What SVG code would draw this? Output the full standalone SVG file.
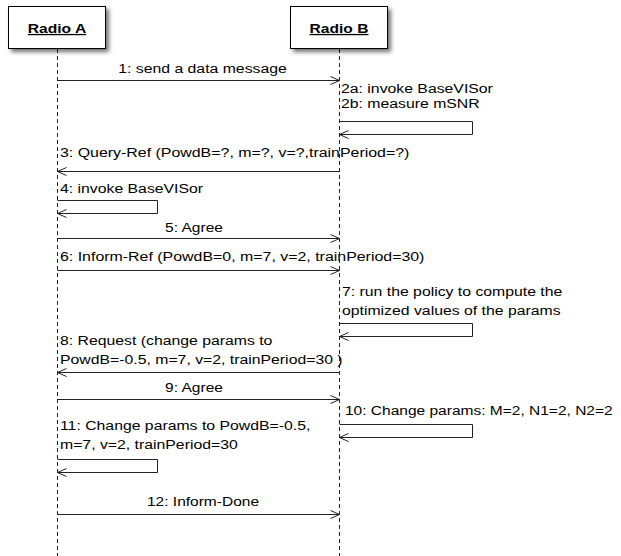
<svg xmlns="http://www.w3.org/2000/svg" width="621" height="556" viewBox="0 0 621 556">
  <style>
    .box { fill: #fff; stroke: #000; stroke-width: 1; filter: url(#shadow); }
    .life { stroke: #222; stroke-width: 1; stroke-dasharray: 4 3; fill: none; }
    .msg { stroke: #222; stroke-width: 1; fill: none; marker-end: url(#open); }
    .t { font-family: "Liberation Sans", Arial, sans-serif; font-size: 13.5px; fill: #000; }
    .c { text-anchor: middle; }
    .h { font-family: "Liberation Sans", Arial, sans-serif; font-size: 13px; font-weight: bold; text-anchor: middle; text-decoration: underline; fill: #000; }
  </style>
  <defs>
    <filter id="shadow" x="-20%" y="-20%" width="150%" height="160%">
      <feDropShadow dx="3" dy="3" stdDeviation="2" flood-color="#000" flood-opacity="0.55"/>
    </filter>
    <marker id="open" markerUnits="userSpaceOnUse" markerWidth="12" markerHeight="12" viewBox="0 0 12 12" refX="10" refY="5" orient="auto">
      <path d="M1,1 L10,5 L1,9" fill="none" stroke="#222" stroke-width="1"/>
    </marker>
  </defs>
  <rect width="621" height="556" fill="#fff"/>

  <g id="radioA">
    <line class="life" x1="57.5" y1="49" x2="57.5" y2="556"/>
    <rect class="box" x="8.5" y="6.5" width="97" height="42"/>
    <text class="h" transform="translate(57 33) scale(1.2 1)">Radio A</text>
  </g>
  <g id="radioB">
    <line class="life" x1="339.5" y1="49" x2="339.5" y2="556"/>
    <rect class="box" x="290.5" y="6.5" width="97" height="42"/>
    <text class="h" transform="translate(339 33) scale(1.2 1)">Radio B</text>
  </g>

  <g id="connectors">
    <g id="m1">
      <line class="msg" x1="57.5" y1="80.5" x2="339.5" y2="80.5"/>
      <text class="t c" transform="translate(202.5 73) scale(1.17 1)">1: send a data message</text>
    </g>
    <g id="m2">
      <text class="t" transform="translate(341 93) scale(1.17 1)">2a: invoke BaseVISor</text>
      <text class="t" transform="translate(341 108) scale(1.17 1)">2b: measure mSNR</text>
      <polyline class="msg" points="339.5,121.5 472.5,121.5 472.5,134.5 339.5,134.5"/>
    </g>
    <g id="m3">
      <text class="t" transform="translate(60 157) scale(1.18 1)">3: Query-Ref (PowdB=?, m=?, v=?,trainPeriod=?)</text>
      <line class="msg" x1="339.5" y1="171.5" x2="57.5" y2="171.5"/>
    </g>
    <g id="m4">
      <text class="t" transform="translate(60 193) scale(1.17 1)">4: invoke BaseVISor</text>
      <polyline class="msg" points="57.5,200.5 157.5,200.5 157.5,213.5 57.5,213.5"/>
    </g>
    <g id="m5">
      <text class="t c" transform="translate(194 232) scale(1.15 1)">5: Agree</text>
      <line class="msg" x1="57.5" y1="238.5" x2="339.5" y2="238.5"/>
    </g>
    <g id="m6">
      <text class="t" transform="translate(60 261) scale(1.18 1)">6: Inform-Ref (PowdB=0, m=7, v=2, trainPeriod=30)</text>
      <line class="msg" x1="57.5" y1="270.5" x2="339.5" y2="270.5"/>
    </g>
    <g id="m7">
      <text class="t" transform="translate(342 296) scale(1.17 1)">7: run the policy to compute the</text>
      <text class="t" transform="translate(342 315) scale(1.17 1)">optimized values of the params</text>
      <polyline class="msg" points="339.5,323.5 472.5,323.5 472.5,336.5 339.5,336.5"/>
    </g>
    <g id="m8">
      <text class="t" transform="translate(60 345) scale(1.17 1)">8: Request (change params to</text>
      <text class="t" transform="translate(60 364) scale(1.17 1)">PowdB=-0.5, m=7, v=2, trainPeriod=30 )</text>
      <line class="msg" x1="339.5" y1="372.5" x2="57.5" y2="372.5"/>
    </g>
    <g id="m9">
      <text class="t c" transform="translate(194 392) scale(1.15 1)">9: Agree</text>
      <line class="msg" x1="57.5" y1="399.5" x2="339.5" y2="399.5"/>
    </g>
    <g id="m10">
      <text class="t" transform="translate(345 415) scale(1.15 1)">10: Change params: M=2, N1=2, N2=2</text>
      <polyline class="msg" points="339.5,424.5 472.5,424.5 472.5,437.5 339.5,437.5"/>
    </g>
    <g id="m11">
      <text class="t" transform="translate(60 430) scale(1.17 1)">11: Change params to PowdB=-0.5,</text>
      <text class="t" transform="translate(60 449) scale(1.17 1)">m=7, v=2, trainPeriod=30</text>
      <polyline class="msg" points="57.5,459.5 157.5,459.5 157.5,472.5 57.5,472.5"/>
    </g>
    <g id="m12">
      <text class="t c" transform="translate(203 506) scale(1.15 1)">12: Inform-Done</text>
      <line class="msg" x1="57.5" y1="514.5" x2="339.5" y2="514.5"/>
    </g>
  </g>
</svg>
